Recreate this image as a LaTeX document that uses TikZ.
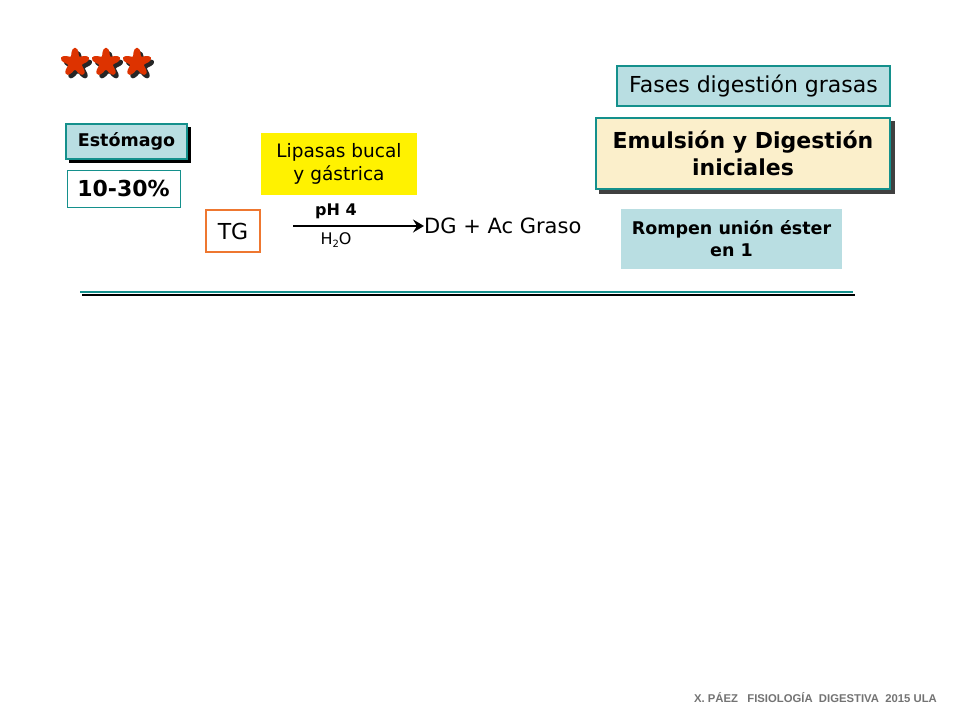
\documentclass[tikz,border=0pt]{standalone}
\usepackage{fontspec}
\usetikzlibrary{arrows.meta}
\setmainfont{DejaVu Sans}
\newfontfamily\footfont{Liberation Sans}
\definecolor{teal1}{HTML}{14908C}
\definecolor{lblue}{HTML}{B9DEE2}
\definecolor{beige}{HTML}{FBEFCB}
\definecolor{orng}{HTML}{EE7730}
\definecolor{starred}{HTML}{DD3300}
\begin{document}
\begin{tikzpicture}[x=1pt,y=-1pt,
  shadowbox/.style={draw=teal1,line width=2pt,inner sep=0pt,align=center},
  plainbox/.style={inner sep=0pt,align=center},
  lbl/.style={inner sep=0pt}]
\useasboundingbox (0,0) rectangle (960,720);
% stars
\foreach \cx in {75,106,137}{
  \fill[black!85] plot[smooth cycle,domain=0:350,samples=36,variable=\t] ({\cx+3+(11+3.8*cos(5*\t+90))*cos(\t)},{66+(11+3.8*cos(5*\t+90))*sin(\t)});
  \fill[starred] plot[smooth cycle,domain=0:350,samples=36,variable=\t] ({\cx+(11+3.8*cos(5*\t+90))*cos(\t)},{62.5+(11+3.8*cos(5*\t+90))*sin(\t)});
}
% Estomago
\fill[black] (69,127) rectangle (191,163);
\node[shadowbox,fill=lblue,minimum width=121pt,minimum height=35pt,font=\bfseries\fontsize{17.5}{20}\selectfont] (est) at (126.5,141.5) {Estómago};
% 10-30
\node[plainbox,draw=teal1,line width=0.7pt,fill=white,minimum width=113pt,minimum height=37pt,font=\bfseries\fontsize{22}{24}\selectfont] (pct) at (123.5,188.5) {10-30\%};
% Lipasas
\node[plainbox,fill=yellow,minimum width=156pt,minimum height=62pt,font=\fontsize{18.5}{23}\selectfont] (lip) at (339,164) {Lipasas bucal\\ y gástrica};
% TG
\node[plainbox,draw=orng,line width=2.5pt,fill=white,minimum width=54pt,minimum height=42pt,font=\fontsize{22}{24}\selectfont] (tg) at (233,231) {TG};
% arrow
\coordinate (a1) at (293,226);
\node[lbl,anchor=west,font=\fontsize{21}{24}\selectfont] (dg) at (424,226) {DG + Ac Graso};
\draw[line width=1.8pt,-{Stealth[length=11pt,width=13pt,inset=4pt]}] (a1) -- (dg.west);
\node[lbl,font=\bfseries\fontsize{16}{18}\selectfont] (ph) at (336,211) {pH 4};
\node[lbl,font=\fontsize{16}{18}\selectfont] (h2o) at (336,240) {H\raisebox{-0.3ex}{\fontsize{10}{11}\selectfont 2}O};
% Fases
\node[shadowbox,line width=2.5pt,fill=lblue,minimum width=273pt,minimum height=40pt,font=\fontsize{22}{24}\selectfont] (fases) at (753.5,86) {Fases digestión grasas};
% Emulsion
\fill[black!75] (599,121) rectangle (895,194);
\node[shadowbox,fill=beige,minimum width=294pt,minimum height=71pt,font=\bfseries\fontsize{22}{27}\selectfont] (emu) at (743,153.5) {Emulsión y Digestión\\iniciales};
% Rompen
\node[plainbox,fill=lblue,minimum width=221pt,minimum height=60pt,font=\bfseries\fontsize{17.5}{22}\selectfont] (rom) at (731.5,239) {Rompen unión éster\\en 1};
% line
\coordinate (l1) at (80,292);
\coordinate (l2) at (853,292);
\draw[line width=2.5pt,black] ([shift={(2,3)}]l1) -- ([shift={(2,3)}]l2);
\draw[line width=2.5pt,teal1] (l1) -- (l2);
% footer
\node[lbl,anchor=east,text=black!55,font=\footfont\bfseries\fontsize{11.3}{13}\selectfont] (foot) at (937,698) {X. PÁEZ\ \ \ FISIOLOGÍA\ \ DIGESTIVA\ \ 2015 ULA};
\end{tikzpicture}
\end{document}
